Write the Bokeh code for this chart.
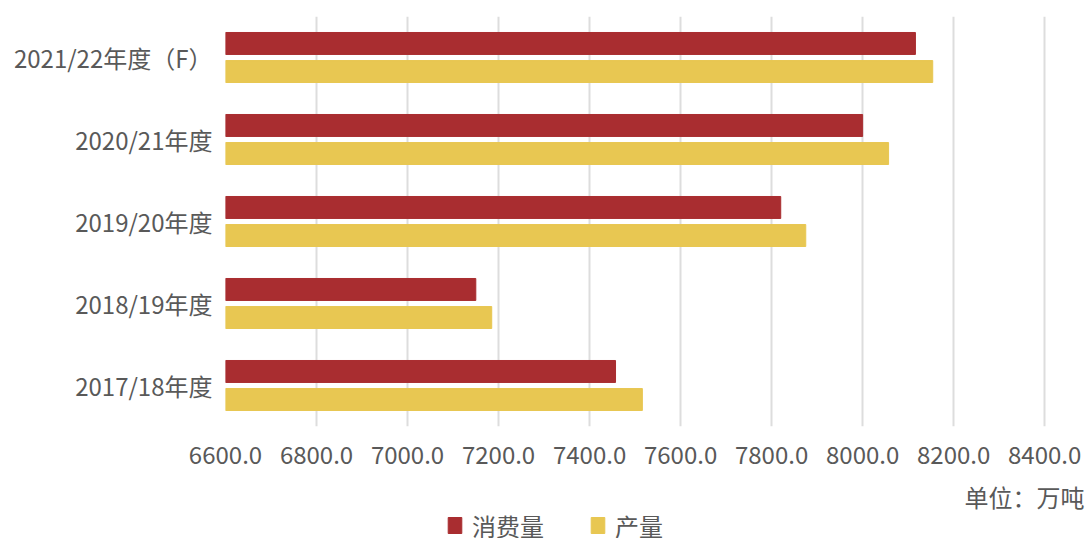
from bokeh.plotting import figure
from bokeh.layouts import column
from bokeh.models import (ColumnDataSource, FactorRange, Range1d, FixedTicker,
                          NumeralTickFormatter, Legend, LegendItem, Title)
from bokeh.transform import dodge
from bokeh.embed import file_html
from bokeh.resources import INLINE

# ---- data ----
categories = ["2017/18年度", "2018/19年度", "2019/20年度", "2020/21年度", "2021/22年度（F）"]
consumption = [7457, 7150, 7820, 8000, 8116]   # 消费量
production = [7516, 7185, 7875, 8057, 8154]    # 产量
x_ticks = [6600, 6800, 7000, 7200, 7400, 7600, 7800, 8000, 8200, 8400]
series_names = ["消费量", "产量"]
unit_text = "单位：万吨"

FONT = "Noto Sans CJK SC"
RED = "#A92D30"
YELLOW = "#E8C752"
TEXT = "#595959"

src = ColumnDataSource(dict(cat=categories, cons=consumption, prod=production))

# ---- main chart ----
p = figure(width=1091, height=514, output_backend="svg", toolbar_location=None,
           y_range=FactorRange(factors=categories, range_padding=0),
           x_range=Range1d(x_ticks[0], x_ticks[-1] + 4),
           min_border_left=225, min_border_right=45, min_border_top=16,
           min_border_bottom=88)
p.outline_line_color = None
p.background_fill_color = "white"
p.border_fill_color = "white"

r1 = p.hbar(y=dodge("cat", 0.171, range=p.y_range), left=x_ticks[0], right="cons",
            height=0.268, color=RED, source=src)
r2 = p.hbar(y=dodge("cat", -0.171, range=p.y_range), left=x_ticks[0], right="prod",
            height=0.268, color=YELLOW, source=src)

p.xaxis.ticker = FixedTicker(ticks=x_ticks)
p.xaxis.formatter = NumeralTickFormatter(format="0.0")
for ax in (p.xaxis, p.yaxis):
    ax.axis_line_color = None
    ax.major_tick_line_color = None
    ax.minor_tick_line_color = None
    ax.major_tick_in = 0
    ax.major_tick_out = 0
    ax.major_label_text_font = FONT
    ax.major_label_text_font_size = "24px"
    ax.major_label_text_color = TEXT
p.xaxis.major_label_standoff = 19
p.yaxis.major_label_standoff = 13
# small spacer between tick labels and the unit note
p.xaxis.axis_label = " "
p.xaxis.axis_label_text_font_size = "1px"
p.xaxis.axis_label_standoff = 6

p.xgrid.grid_line_color = "#DDDDDD"
p.xgrid.grid_line_width = 2
p.ygrid.grid_line_color = None

unit = Title(text=unit_text, align="right", offset=-38, standoff=0,
             text_font=FONT, text_font_size="24px", text_font_style="normal",
             text_color=TEXT)
p.add_layout(unit, "below")

# ---- legend strip ----
p2 = figure(width=1091, height=24, output_backend="svg", toolbar_location=None,
            y_range=FactorRange(factors=categories), x_range=Range1d(0, 1),
            x_axis_type=None, y_axis_type=None, min_border=0)
p2.outline_line_color = None
p2.grid.grid_line_color = None
l1 = p2.hbar(y="cat", left=0, right="cons", height=0.5, color=RED, source=src,
             visible=False)
l2 = p2.hbar(y="cat", left=0, right="prod", height=0.5, color=YELLOW, source=src,
             visible=False)
legend = Legend(items=[LegendItem(label=series_names[0], renderers=[l1]),
                       LegendItem(label=series_names[1], renderers=[l2])],
                orientation="horizontal", location=(221, -4.5),
                glyph_width=17, glyph_height=20, label_standoff=9, spacing=45,
                padding=0, margin=0, border_line_color=None,
                background_fill_alpha=0, inactive_fill_alpha=0,
                label_text_font=FONT, label_text_font_size="24px",
                label_text_color=TEXT)
p2.add_layout(legend)

open("out.html", "w").write(file_html(column(p, p2, spacing=0), INLINE))
